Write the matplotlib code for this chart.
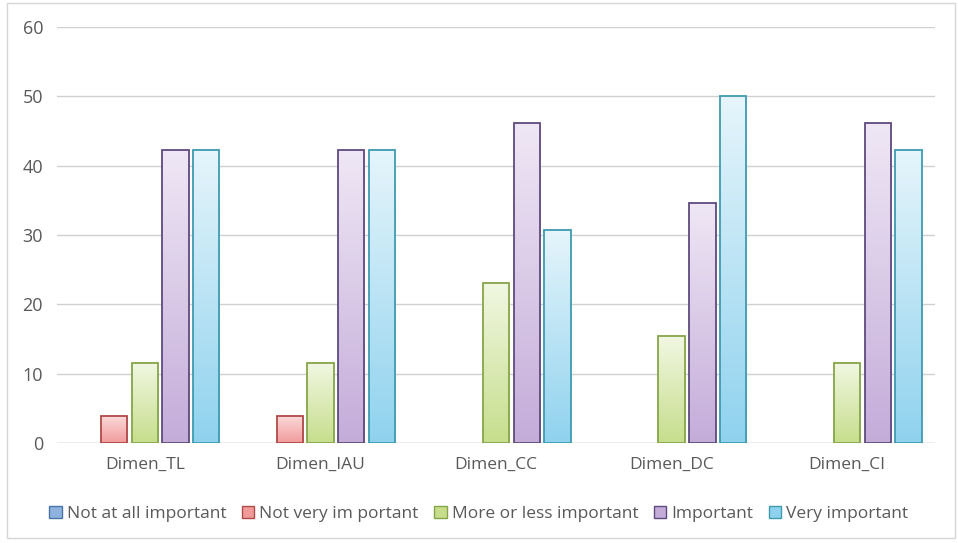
import numpy as np
import matplotlib
matplotlib.use("Agg")
import matplotlib.pyplot as plt
from matplotlib.colors import LinearSegmentedColormap
from matplotlib.patches import Rectangle

categories = ["Dimen_TL", "Dimen_IAU", "Dimen_CC", "Dimen_DC", "Dimen_CI"]
series_names = ["Not at all important", "Not very im portant",
                "More or less important", "Important", "Very important"]
not_at_all = [0, 0, 0, 0, 0]
not_very = [3.85, 3.85, 0, 0, 0]
more_or_less = [11.54, 11.54, 23.08, 15.38, 11.54]
important = [42.31, 42.31, 46.15, 34.62, 46.15]
very_important = [42.31, 42.31, 30.77, 50.0, 42.31]
y_ticks = [0, 10, 20, 30, 40, 50, 60]

values = [not_at_all, not_very, more_or_less, important, very_important]
# (top colour, bottom colour, edge colour) for each series
styles = [
    ("#dbe6f4", "#8fb3de", "#4a74a8"),
    ("#fbd9d9", "#f09a9a", "#b04a48"),
    ("#f1f7e2", "#c6de8c", "#86a54a"),
    ("#efe7f5", "#c4acd9", "#5e4a7e"),
    ("#e6f5fb", "#8fd2ee", "#3f9bb0"),
]

fig = plt.figure(figsize=(9.58, 5.43), dpi=100)
fig.patch.set_facecolor("white")
fig.add_artist(Rectangle((7 / 958, 5 / 543), 948 / 958, 535 / 543,
                         transform=fig.transFigure, fill=False,
                         edgecolor="#d6d6d6", lw=1.0))

ax = fig.add_axes([57 / 958, 1 - 443 / 543, 878 / 958, 416 / 543])
ax.set_xlim(-0.5, len(categories) - 0.5)
ax.set_ylim(0, 60)

step = 0.175
width = 0.15
x = np.arange(len(categories))
grad = np.linspace(0, 1, 256).reshape(-1, 1)

for i, (vals, (top, bot, edge)) in enumerate(zip(values, styles)):
    cmap = LinearSegmentedColormap.from_list(f"s{i}", [bot, top])
    xs = x + (i - 2) * step
    bars = ax.bar(xs, vals, width=width, facecolor="none", edgecolor=edge,
                  linewidth=1.3, zorder=3)
    for b in bars:
        h = b.get_height()
        if h <= 0:
            b.set_visible(False)
            continue
        x0 = b.get_x()
        im = ax.imshow(grad, cmap=cmap, aspect="auto", origin="lower",
                       extent=(x0, x0 + b.get_width(), 0, h), zorder=2)
        im.set_clip_path(b)

ax.set_yticks(y_ticks)
ax.set_xticks(x)
ax.set_xticklabels(categories)
ax.yaxis.grid(True, color="#d0d0d0", lw=1.0, zorder=0)
ax.set_axisbelow(True)
for s in ax.spines.values():
    s.set_visible(False)
ax.axhline(0, color="#d0d0d0", lw=1.0, zorder=1)
ax.tick_params(axis="both", length=0, colors="#595959", labelsize=12.5)
ax.tick_params(axis="x", pad=10)
ax.tick_params(axis="y", pad=10, labelsize=13)
for lab in ax.get_xticklabels() + ax.get_yticklabels():
    lab.set_fontfamily("Open Sans")
    lab.set_color("#595959")

handles = [Rectangle((0, 0), 1, 1, facecolor=s[1], edgecolor=s[2], lw=1.0)
           for s in styles]
leg = fig.legend(handles, series_names, loc="center", ncol=5,
                 bbox_to_anchor=(0.5, 1 - 514 / 543), frameon=False,
                 handlelength=0.7, handleheight=0.7, handletextpad=0.3,
                 columnspacing=0.9,
                 prop={"family": "Open Sans", "size": 12.5})
for t in leg.get_texts():
    t.set_color("#595959")

fig.savefig("out.png", dpi=100, facecolor="white")
